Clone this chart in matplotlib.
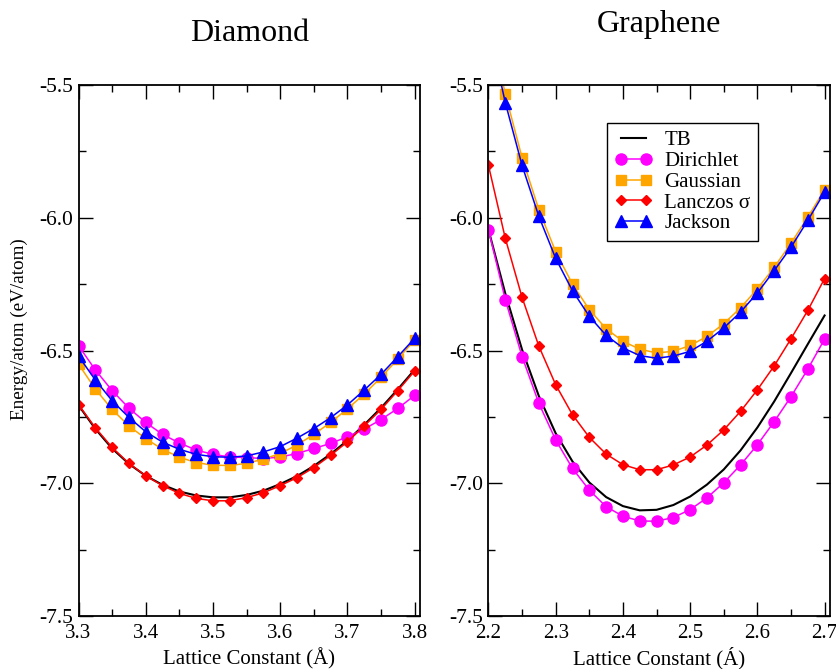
import numpy as np
import matplotlib
matplotlib.use("Agg")
import matplotlib.pyplot as plt
from matplotlib.ticker import MultipleLocator, FormatStrFormatter

plt.rcParams['font.family'] = ['Liberation Serif', 'DejaVu Serif']

# ---------------- data ----------------
diamond_x = [3.3, 3.325, 3.35, 3.375, 3.4, 3.425, 3.45, 3.475, 3.5, 3.525, 3.55,
             3.575, 3.6, 3.625, 3.65, 3.675, 3.7, 3.725, 3.75, 3.775, 3.8]
diamond_tb = [-6.706, -6.795, -6.869, -6.927, -6.972, -7.006, -7.031, -7.046, -7.053, -7.053, -7.044,
              -7.028, -7.003, -6.973, -6.935, -6.890, -6.839, -6.780, -6.716, -6.646, -6.572]
diamond_dirichlet = [-6.482, -6.573, -6.651, -6.717, -6.771, -6.816, -6.848, -6.875, -6.891, -6.901, -6.903,
                     -6.907, -6.901, -6.888, -6.869, -6.850, -6.825, -6.796, -6.760, -6.718, -6.669]
diamond_gaussian = [-6.551, -6.645, -6.722, -6.784, -6.832, -6.872, -6.902, -6.922, -6.932, -6.933, -6.925,
                    -6.909, -6.888, -6.856, -6.816, -6.771, -6.720, -6.664, -6.601, -6.532, -6.460]
diamond_lanczos = [-6.704, -6.791, -6.865, -6.925, -6.972, -7.009, -7.038, -7.057, -7.066, -7.066, -7.054,
                   -7.036, -7.009, -6.979, -6.941, -6.895, -6.844, -6.784, -6.722, -6.651, -6.577]
diamond_jackson = [-6.521, -6.611, -6.689, -6.752, -6.806, -6.845, -6.872, -6.891, -6.900, -6.902, -6.897,
                   -6.882, -6.862, -6.830, -6.794, -6.753, -6.705, -6.649, -6.590, -6.523, -6.454]

graphene_x = [2.2, 2.225, 2.25, 2.275, 2.3, 2.325, 2.35, 2.375, 2.4, 2.425, 2.45,
              2.475, 2.5, 2.525, 2.55, 2.575, 2.6, 2.625, 2.65, 2.675, 2.7]
graphene_tb = [-6.045, -6.285, -6.497, -6.672, -6.812, -6.918, -6.997, -7.052, -7.086, -7.102, -7.100,
               -7.082, -7.050, -7.005, -6.948, -6.876, -6.790, -6.692, -6.585, -6.476, -6.368]
graphene_dirichlet = [-6.045, -6.308, -6.523, -6.699, -6.837, -6.944, -7.026, -7.088, -7.124, -7.142, -7.143,
                      -7.129, -7.099, -7.055, -6.998, -6.931, -6.855, -6.768, -6.674, -6.570, -6.457]
graphene_gaussian = [-5.240, -5.534, -5.774, -5.970, -6.128, -6.250, -6.346, -6.418, -6.465, -6.495, -6.509,
                     -6.503, -6.481, -6.447, -6.399, -6.339, -6.268, -6.187, -6.096, -5.998, -5.894]
graphene_lanczos = [-5.803, -6.077, -6.300, -6.484, -6.629, -6.742, -6.827, -6.890, -6.930, -6.949, -6.949,
                    -6.931, -6.901, -6.856, -6.799, -6.729, -6.648, -6.558, -6.456, -6.349, -6.229]
graphene_jackson = [-5.280, -5.566, -5.803, -5.995, -6.153, -6.275, -6.371, -6.443, -6.490, -6.519, -6.529,
                    -6.521, -6.503, -6.465, -6.415, -6.355, -6.283, -6.199, -6.111, -6.010, -5.903]

series_labels = ["TB", "Dirichlet", "Gaussian", "Lanczos σ", "Jackson"]
titles = ["Diamond", "Graphene"]
xlabels = ["Lattice Constant (Å)", "Lattice Constant (Á)"]
ylabel = "Energy/atom (eV/atom)"

# ---------------- figure ----------------
fig = plt.figure(figsize=(8.37, 6.69), dpi=100)
ax1 = fig.add_axes([0.0938, 0.0792, 0.408, 0.7937])
ax2 = fig.add_axes([0.5836, 0.0792, 0.408, 0.7937])

styles = [
    dict(color='black', lw=1.5, marker=None),
    dict(color='#FF00FF', lw=1.1, marker='o', ms=8),
    dict(color='#FFA500', lw=1.1, marker='s', ms=7),
    dict(color='#FF0000', lw=1.1, marker='D', ms=5.6),
    dict(color='#0000FF', lw=1.1, marker='^', ms=8),
]

def draw(ax, x, ys, xlim, title, xlabel, title_pad):
    handles = []
    for y, st, lab in zip(ys, styles, series_labels):
        kw = dict(color=st['color'], lw=st['lw'], label=lab)
        if st['marker']:
            kw.update(marker=st['marker'], ms=st['ms'], mec=st['color'], mfc=st['color'])
        h, = ax.plot(x, y, **kw)
        handles.append(h)
    ax.set_xlim(*xlim)
    ax.set_ylim(-7.5, -5.5)
    ax.xaxis.set_major_locator(MultipleLocator(0.1))
    ax.xaxis.set_minor_locator(MultipleLocator(0.05))
    ax.yaxis.set_major_locator(MultipleLocator(0.5))
    ax.yaxis.set_minor_locator(MultipleLocator(0.25))
    ax.xaxis.set_major_formatter(FormatStrFormatter('%.1f'))
    ax.yaxis.set_major_formatter(FormatStrFormatter('%.1f'))
    ax.tick_params(which='both', direction='in', top=True, right=True, width=1.0)
    ax.tick_params(which='major', length=10, labelsize=15.5, pad=4)
    ax.tick_params(which='minor', length=5)
    ax.tick_params(axis='x', which='major', pad=6, labelsize=15)
    for s in ax.spines.values():
        s.set_linewidth(1.3)
    ax.set_title(title, fontsize=23, pad=title_pad)
    ax.text(0.5, -0.0904, xlabel, transform=ax.transAxes, fontsize=15,
            ha='center', va='baseline')
    return handles

draw(ax1, diamond_x,
     [diamond_tb, diamond_dirichlet, diamond_gaussian, diamond_lanczos, diamond_jackson],
     (3.3, 3.808), titles[0], xlabels[0], 32)
hs = draw(ax2, graphene_x,
          [graphene_tb, graphene_dirichlet, graphene_gaussian, graphene_lanczos, graphene_jackson],
          (2.2, 2.708), titles[1], xlabels[1], 38)

ax1.set_ylabel(ylabel, fontsize=13.8)
ax1.yaxis.set_label_coords(-0.148, 0.54)

leg = ax2.legend(handles=hs, loc='upper left', bbox_to_anchor=(0.347, 0.928),
                 borderaxespad=0, fontsize=15, numpoints=2, handlelength=1.8,
                 labelspacing=0.06, handletextpad=0.6, borderpad=0.35,
                 fancybox=False, framealpha=1, edgecolor='black')
leg.get_frame().set_linewidth(1.0)

fig.savefig("out.png", dpi=100)
